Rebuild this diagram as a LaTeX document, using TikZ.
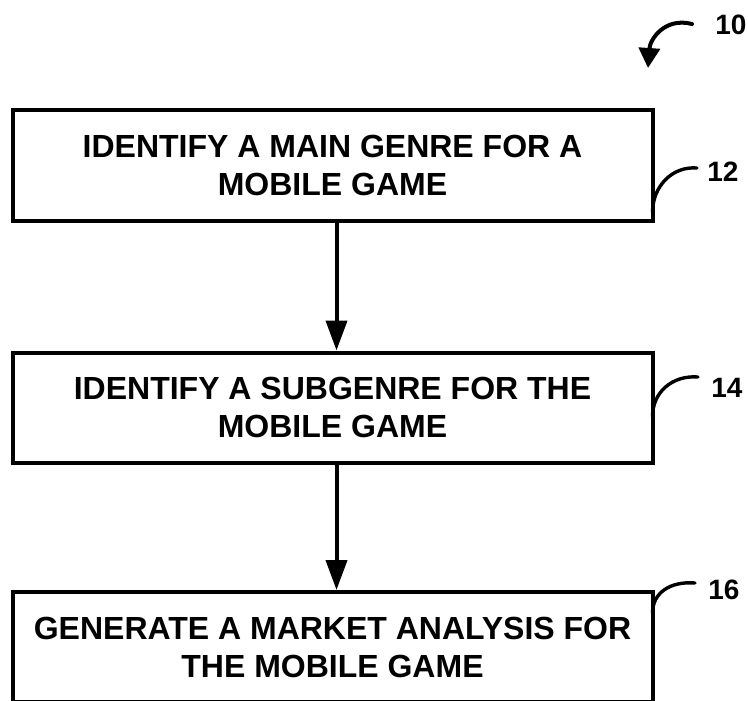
\documentclass[tikz,border=0pt]{standalone}
\usepackage{fontspec}
\setmainfont{Liberation Sans}
\usetikzlibrary{arrows.meta,calc}

\begin{document}
\begin{tikzpicture}[x=0.5pt,y=-0.5pt,line cap=round,
  procbox/.style={draw,line width=2pt,minimum width=320pt,minimum height=55pt,
    inner sep=0pt,align=center,font=\fontsize{16}{19}\selectfont\bfseries},
  reflabel/.style={anchor=west,inner sep=0pt,font=\fontsize{14}{16}\selectfont\bfseries}]
  \useasboundingbox (0,0) rectangle (748,700);
  \clip (0,0) rectangle (748,700);
  % 三个步骤框
  \node[procbox] (b1) at (332.5,165.5) {IDENTIFY A MAIN GENRE FOR A\\MOBILE GAME};
  \node[procbox] (b2) at (332.5,407.5) {IDENTIFY A SUBGENRE FOR THE\\MOBILE GAME};
  \node[procbox] (b3) at (332.5,647) {GENERATE A MARKET ANALYSIS FOR\\THE MOBILE GAME};
  \draw[line width=2pt,-{Triangle[width=10.5pt,length=15pt]}] ([xshift=2pt]b1.south) -- ([xshift=2pt]b2.north);
  \draw[line width=2pt,-{Triangle[width=10.5pt,length=15pt]}] ([xshift=2pt]b2.south) -- ([xshift=2pt]b3.north);
  % 标号及引线
  \node[reflabel] (l10) at (715,25) {10};
  \node[reflabel] (l12) at (707,172) {12};
  \node[reflabel] (l14) at (711,388) {14};
  \node[reflabel] (l16) at (708,590) {16};
  \coordinate (c10) at (648,68);
  \coordinate (c12) at ($(b1.south east)+(-2,-10)$);
  \coordinate (c14) at ($(b2.south east)+(-2,-48)$);
  \coordinate (c16) at ($(b3.north east)+(-2,23)$);
  \draw[line width=2pt,-{Triangle[width=10.5pt,length=10pt]}] ([xshift=-11.5pt,yshift=0.5pt]l10.west)
    .. controls +(-27,-7) and +(2,-29) .. (c10);
  \draw[line width=1.7pt] ([xshift=-5pt,yshift=2pt]l12.west) .. controls +(-25,-2) and +(0,-26) .. (c12);
  \draw[line width=1.7pt] ([xshift=-6.5pt,yshift=5.5pt]l14.west) .. controls +(-26,-2) and +(0,-24) .. (c14);
  \draw[line width=1.7pt] ([xshift=-6.5pt,yshift=3.5pt]l16.west) .. controls +(-25,-2) and +(0,-20) .. (c16);
\end{tikzpicture}
\end{document}
